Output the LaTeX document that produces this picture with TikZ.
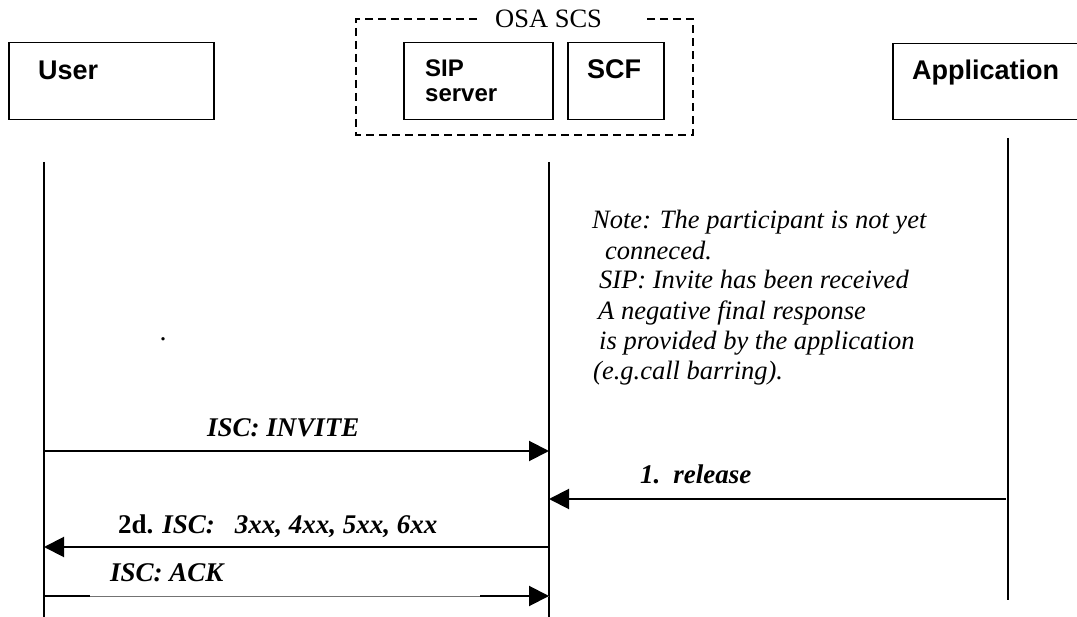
\documentclass[tikz,border=0pt]{standalone}
\usepackage{fontspec}
\setmainfont{Liberation Serif}
\newfontfamily\arialf{Liberation Sans}
\usetikzlibrary{arrows.meta,calc}
\begin{document}
\begin{tikzpicture}[x=1pt,y=-1pt,
  box/.style={draw,line width=1.5pt,inner sep=0pt,anchor=north west},
  boxlbl/.style={font=\arialf\bfseries\fontsize{27}{28}\selectfont,anchor=base west,inner sep=0pt},
  siplbl/.style={font=\arialf\bfseries\fontsize{24}{25}\selectfont,anchor=base west,inner sep=0pt},
  grpline/.style={line width=1.5pt,dash pattern=on 8pt off 5pt},
  lifeline/.style={line width=1.5pt},
  msgline/.style={line width=2pt},
  msg/.style={line width=2pt,-{Triangle[length=20pt,width=20pt]}},
  thinmsg/.style={line width=0.9pt,black!55},
  msglbl/.style={font=\bfseries\itshape\fontsize{27}{30}\selectfont,anchor=base west,inner sep=0pt},
  notelbl/.style={font=\itshape\fontsize{26.5}{30}\selectfont,anchor=base west,inner sep=0pt}]
\useasboundingbox (0,0) rectangle (1077,617);
\clip (0,0) rectangle (1077,617);

% entity boxes
\node[box,minimum width=205pt,minimum height=77pt] (user) at (8,42) {};
\node[boxlbl] (userlbl) at (38,80) {User};
\node[box,minimum width=149pt,minimum height=77pt] (sip) at (403,42) {};
\node[siplbl] (siplbl1) at (425,77) {SIP};
\node[siplbl] (siplbl2) at (425,102) {server};
\node[box,minimum width=96pt,minimum height=77pt] (scf) at (567,42) {};
\node[boxlbl] (scflbl) at (587,79) {SCF};
\node[box,minimum width=260pt,minimum height=76pt] (app) at (892,43) {};
\node[boxlbl] (applbl) at (912,80) {Application};

% OSA SCS group
\node[font=\fontsize{26.5}{28}\selectfont,anchor=base west,inner sep=0pt] (osa) at (495,28) {OSA SCS};
\draw[grpline] (477,19) -- (356,19) -- (356,135) -- (693,135) -- (693,19) -- (645,19);

% lifelines
\coordinate (uTop) at (44,162);  \coordinate (uBot) at (44,617);
\coordinate (sTop) at (549,162); \coordinate (sBot) at (549,617);
\coordinate (aTop) at (1008,138); \coordinate (aBot) at (1008,600);
\draw[lifeline] (uTop) -- (uBot);
\draw[lifeline] (sTop) -- (sBot);
\draw[lifeline] (aTop) -- (aBot);

% note
\node[notelbl] (note1) at (592,229) {Note: The participant is not yet};
\node[notelbl] (note2) at (605,260) {conneced.};
\node[notelbl] (note3) at (599,289) {SIP: Invite has been received};
\node[notelbl] (note4) at (598,320) {A negative final response};
\node[notelbl] (note5) at (599,350) {is provided by the application};
\node[notelbl] (note6) at (593,380) {(e.g.call barring).};

\node[font=\fontsize{28}{28}\selectfont,anchor=base,inner sep=0pt] (dot) at (163,341) {.};

% message points
\coordinate (u1) at (44,451);  \coordinate (s1) at (549,451);
\coordinate (a2) at (1006,499); \coordinate (s2) at (549,499);
\coordinate (s3) at (549,547); \coordinate (u3) at (44,547);
\coordinate (u4) at (44,596);  \coordinate (s4) at (549,596);

% messages
\draw[msg] (u1) -- (s1);
\node[msglbl] (m1) at (207,437) {ISC: INVITE};

\draw[msg] (a2) -- (s2);
\node[msglbl] (m2) at (640,484) {1.\hspace{13pt}release};

\draw[msg] (s3) -- (u3);
\node[msglbl] (m3) at (118,533) {{\upshape 2d.} ISC:\hspace{20pt}3xx, 4xx, 5xx, 6xx};

\draw[thinmsg] (u4) -- (s4);
\draw[msgline] (u4) -- ($(u4)+(46,0)$);
\draw[msg] ($(s4)+(-69,0)$) -- (s4);
\node[msglbl] (m4) at (110,581) {ISC: ACK};
\end{tikzpicture}
\end{document}
